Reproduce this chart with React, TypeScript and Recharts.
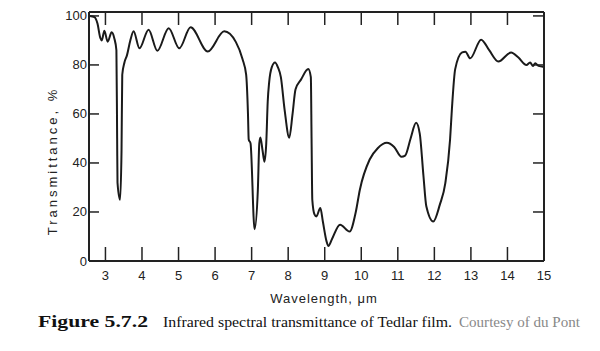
import React from 'react';
import { LineChart, Line, XAxis, YAxis } from 'recharts';

const wavelengths = [
  2.57, 2.7, 2.78, 2.86, 2.9, 2.97, 3.06, 3.17, 3.24, 3.3, 3.32, 3.33, 3.4, 3.44, 3.46, 3.52, 3.59, 3.68, 3.77, 3.93,
  4.18, 4.42, 4.73, 5.02, 5.33, 5.8, 6.25, 6.57, 6.75, 6.85, 6.9, 6.92, 6.97, 7.08, 7.17, 7.21, 7.24, 7.3, 7.35, 7.4,
  7.44, 7.48, 7.55, 7.64, 7.72, 7.8, 7.9, 8.03, 8.12, 8.2, 8.35, 8.55, 8.62, 8.64, 8.66, 8.72, 8.77, 8.88, 8.95, 9.05,
  9.1, 9.2, 9.42, 9.68, 9.85, 9.96, 10.23, 10.45, 10.7, 10.9, 11.1, 11.2, 11.35, 11.5, 11.6, 11.7, 11.78, 11.97, 12.15, 12.3,
  12.43, 12.48, 12.57, 12.76, 12.85, 12.98, 13.28, 13.5, 13.75, 14.1, 14.3, 14.52, 14.62, 14.7, 14.76, 14.85, 15,
];

const transmittance = [
  100, 99.5, 97, 91, 90, 94, 89.5, 93.3, 91, 86, 50, 32, 25, 45, 76, 81, 84, 90, 93.7, 86.8,
  94.4, 85.8, 95, 86.8, 95.4, 85.5, 93.7, 89.3, 82.4, 76, 60, 49.6, 48, 13, 29, 48, 50.4, 45, 40.5, 48,
  65, 73, 79, 81, 79, 75, 62, 50.3, 60, 70, 74, 78.3, 75, 50, 25, 19, 18.2, 21.6, 16, 8,
  6.1, 9, 14.8, 12, 20, 29, 41.4, 46, 48.2, 46.5, 42.5, 43, 50, 56.4, 52, 35, 22.3, 16.1, 23, 31.8,
  49.6, 62, 78.3, 85.1, 85.4, 82.7, 90.3, 86, 81.4, 85.1, 83, 80, 81, 79.6, 80.7, 79.6, 79.2,
];

const xTicks = [3, 4, 5, 6, 7, 8, 9, 10, 11, 12, 13, 14, 15];
const yTicks = [0, 20, 40, 60, 80, 100];

const data = wavelengths.map((x, i) => ({ x, t: transmittance[i] }));

const INK = '#222';
const FONT = '"Liberation Sans", Arial, sans-serif';
const SERIF = '"Liberation Serif", "Times New Roman", serif';

const BottomTick = (props: any) => {
  const { x, y, payload } = props;
  return (
    <g>
      <line x1={x} y1={y} x2={x} y2={y - 14} stroke={INK} strokeWidth={1.5} />
      <text x={x} y={y + 14} textAnchor="middle" dominantBaseline="central" fontSize={13} fill={INK} fontFamily={FONT}>
        {payload.value}
      </text>
    </g>
  );
};

const TopTick = (props: any) => {
  const { x, y } = props;
  return <line x1={x} y1={y} x2={x} y2={y + 13} stroke={INK} strokeWidth={1.5} />;
};

const LeftTick = (props: any) => {
  const { x, y, payload } = props;
  return (
    <g>
      <line x1={x} y1={y} x2={x + 10} y2={y} stroke={INK} strokeWidth={1.5} />
      <text x={x - 2} y={y} textAnchor="end" dominantBaseline="central" fontSize={13} fill={INK} fontFamily={FONT}>
        {payload.value}
      </text>
    </g>
  );
};

const RightTick = (props: any) => {
  const { x, y } = props;
  return <line x1={x} y1={y} x2={x - 11} y2={y} stroke={INK} strokeWidth={1.5} />;
};

export default function App() {
  return (
    <div style={{ position: 'absolute', left: 0, top: 0, width: 600, height: 351, background: '#fff' }}>
      <LineChart width={600} height={351} data={data} margin={{ top: 2, right: 46, bottom: 60, left: 49 }}>
        <XAxis
          xAxisId="bottom"
          dataKey="x"
          type="number"
          domain={[2.55, 15]}
          ticks={xTicks}
          allowDataOverflow
          orientation="bottom"
          height={30}
          tickSize={0}
          tickMargin={0}
          tickLine={false}
          axisLine={{ stroke: INK, strokeWidth: 2 }}
          tick={<BottomTick />}
          interval={0}
        />
        <XAxis
          xAxisId="top"
          dataKey="x"
          type="number"
          domain={[2.55, 15]}
          ticks={xTicks.slice(0, -1)}
          allowDataOverflow
          orientation="top"
          height={10}
          tickSize={0}
          tickMargin={0}
          tickLine={false}
          axisLine={{ stroke: INK, strokeWidth: 2 }}
          tick={<TopTick />}
          interval={0}
        />
        <YAxis
          yAxisId="left"
          type="number"
          domain={[0, 101.6]}
          ticks={yTicks}
          allowDataOverflow
          orientation="left"
          width={40}
          tickSize={0}
          tickMargin={0}
          tickLine={false}
          axisLine={{ stroke: INK, strokeWidth: 2 }}
          tick={<LeftTick />}
          interval={0}
        />
        <YAxis
          yAxisId="right"
          type="number"
          domain={[0, 101.6]}
          ticks={yTicks.slice(1)}
          allowDataOverflow
          orientation="right"
          width={10}
          tickSize={0}
          tickMargin={0}
          tickLine={false}
          axisLine={{ stroke: INK, strokeWidth: 2 }}
          tick={<RightTick />}
          interval={0}
        />
        <Line
          xAxisId="bottom"
          yAxisId="left"
          dataKey="t"
          type="monotone"
          stroke="#1a1a1a"
          strokeWidth={2}
          dot={false}
          activeDot={false}
          isAnimationActive={false}
        />
      </LineChart>
      <svg width={600} height={351} style={{ position: 'absolute', left: 0, top: 0, pointerEvents: 'none' }}>
        <text
          x={52}
          y={161}
          transform="rotate(-90 52 161)"
          textAnchor="middle"
          dominantBaseline="central"
          fontSize={13}
          letterSpacing={3}
          fill={INK}
          fontFamily={FONT}
        >
          Transmittance, %
        </text>
        <text
          x={324}
          y={298}
          textAnchor="middle"
          dominantBaseline="central"
          fontSize={13}
          letterSpacing={1}
          fill={INK}
          fontFamily={FONT}
        >
          Wavelength, μm
        </text>
        <text
          x={38}
          y={327}
          fontSize={16}
          fontWeight="bold"
          fill="#111"
          fontFamily={SERIF}
          textLength={110}
          lengthAdjust="spacingAndGlyphs"
        >
          Figure 5.7.2
        </text>
        <text
          x={163}
          y={327}
          fontSize={15}
          fill="#111"
          fontFamily={SERIF}
          textLength={289}
          lengthAdjust="spacingAndGlyphs"
        >
          Infrared spectral transmittance of Tedlar film.
        </text>
        <text
          x={459}
          y={327}
          fontSize={15}
          fill="#888"
          fontFamily={SERIF}
          textLength={121}
          lengthAdjust="spacingAndGlyphs"
        >
          Courtesy of du Pont
        </text>
      </svg>
    </div>
  );
}
